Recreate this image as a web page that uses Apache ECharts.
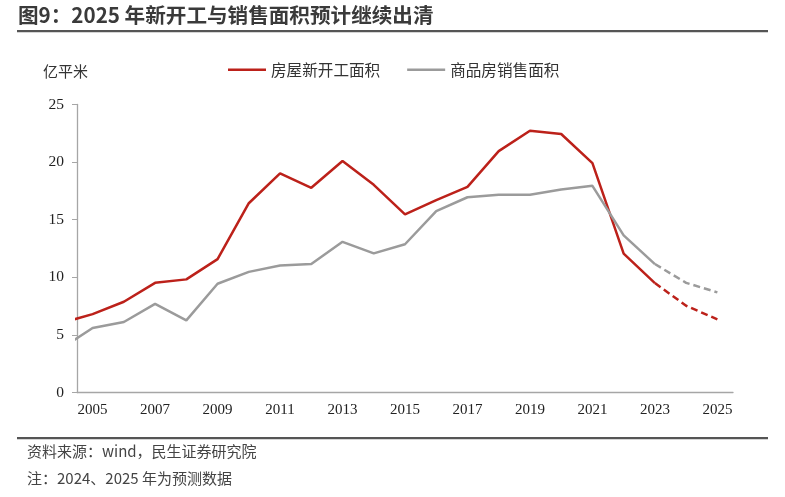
<!DOCTYPE html>
<html>
<head>
<meta charset="utf-8">
<script src="https://cdn.jsdelivr.net/npm/echarts@6/dist/echarts.min.js"></script>
<style>
html,body{margin:0;padding:0;background:#fff;}
#main{width:785px;height:497px;}
</style>
</head>
<body>
<div id="main"></div>
<script>
// Data (2004 value is partly visible at the left edge of the axis)
var years = [2004,2005,2006,2007,2008,2009,2010,2011,2012,2013,2014,2015,2016,2017,2018,2019,2020,2021,2022,2023,2024,2025];
var newStarts = [6.04,6.8,7.88,9.52,9.82,11.58,16.43,19.02,17.77,20.1,18.03,15.47,16.7,17.85,20.95,22.72,22.44,19.91,12.06,9.5,7.53,6.35];
var sales = [3.82,5.6,6.12,7.7,6.26,9.44,10.47,11.02,11.16,13.08,12.08,12.87,15.75,16.95,17.16,17.16,17.62,17.94,13.64,11.15,9.52,8.69];
var forecastFrom = 2023; // dashed from this year on
var axisYears = ['2005','2006','2007','2008','2009','2010','2011','2012','2013','2014','2015','2016','2017','2018','2019','2020','2021','2022','2023','2024','2025'];
var yTicks = [0,5,10,15,20,25];
var seriesNames = ['房屋新开工面积','商品房销售面积'];

function solidPart(vals){
  var out=[];
  for(var i=0;i<years.length;i++){ if(years[i]<=forecastFrom) out.push([years[i],vals[i]]); }
  return out;
}
function dashPart(vals){
  var out=[];
  for(var i=0;i<years.length;i++){ if(years[i]>=forecastFrom) out.push([years[i],vals[i]]); }
  return out;
}

var RED='#BC211A', GREY='#9B9B9B';
var chart = echarts.init(document.getElementById('main'), null, {renderer:'canvas'});
var serif = '"Liberation Serif","Times New Roman",serif';
var cjk = '"Noto Sans CJK SC","Noto Sans",sans-serif';

chart.setOption({
  animation:false,
  backgroundColor:'#fff',
  grid:{left:77,right:52,top:104.5,bottom:104.5,containLabel:false},
  legend:{
    top:57, left:223, itemWidth:38, itemHeight:2.6, itemGap:27,
    icon:'rect',
    textStyle:{fontFamily:cjk,fontSize:15.6,color:'#333'},
    data:[{name:seriesNames[0]},{name:seriesNames[1]}]
  },
  xAxis:[
    {type:'value', min:2004.5, max:2025.5, show:false},
    {type:'category', data:axisYears, boundaryGap:true, position:'bottom',
     axisLine:{lineStyle:{color:'#A6A6A6',width:1.3}},
     axisTick:{interval:1,length:5,lineStyle:{color:'#A6A6A6'}},
     axisLabel:{interval:1,fontFamily:serif,fontSize:15,color:'#222',margin:10},
     splitLine:{show:false}}
  ],
  yAxis:{type:'value', min:yTicks[0], max:yTicks[yTicks.length-1], interval:5,
    axisLine:{show:true,lineStyle:{color:'#A6A6A6',width:1.3}},
    axisTick:{show:true,length:5,lineStyle:{color:'#A6A6A6'}},
    axisLabel:{fontFamily:serif,fontSize:15.5,color:'#222',margin:13},
    splitLine:{show:false}},
  series:[
    {name:seriesNames[0],type:'line',xAxisIndex:0,data:solidPart(newStarts),symbol:'none',clip:true,
     lineStyle:{color:RED,width:2.5},itemStyle:{color:RED}},
    {name:seriesNames[1],type:'line',xAxisIndex:0,data:solidPart(sales),symbol:'none',clip:true,
     lineStyle:{color:GREY,width:2.5},itemStyle:{color:GREY}},
    {name:seriesNames[0]+'预测',type:'line',xAxisIndex:0,data:dashPart(newStarts),symbol:'none',clip:true,
     lineStyle:{color:RED,width:2.5,type:[7,4]}},
    {name:seriesNames[1]+'预测',type:'line',xAxisIndex:0,data:dashPart(sales),symbol:'none',clip:true,
     lineStyle:{color:GREY,width:2.5,type:[7,4]}}
  ],
  graphic:[
    {type:'text',left:18,top:5,style:{text:'图9：2025 年新开工与销售面积预计继续出清',fontFamily:cjk,fontWeight:'bold',fontSize:20.6,fill:'#3a3a3a'}},
    {type:'rect',shape:{x:17,y:30,width:751,height:2.2},style:{fill:'#555'}},
    {type:'text',left:43,top:64,style:{text:'亿平米',fontFamily:cjk,fontSize:15,fill:'#333'}},
    {type:'rect',shape:{x:17,y:437,width:751,height:2.2},style:{fill:'#555'}},
    {type:'text',left:27,top:444,style:{text:'资料来源：wind，民生证券研究院',fontFamily:cjk,fontSize:15,fill:'#444'}},
    {type:'text',left:27,top:471,style:{text:'注：2024、2025 年为预测数据',fontFamily:cjk,fontSize:15,fill:'#444'}}
  ]
});
</script>
</body>
</html>
